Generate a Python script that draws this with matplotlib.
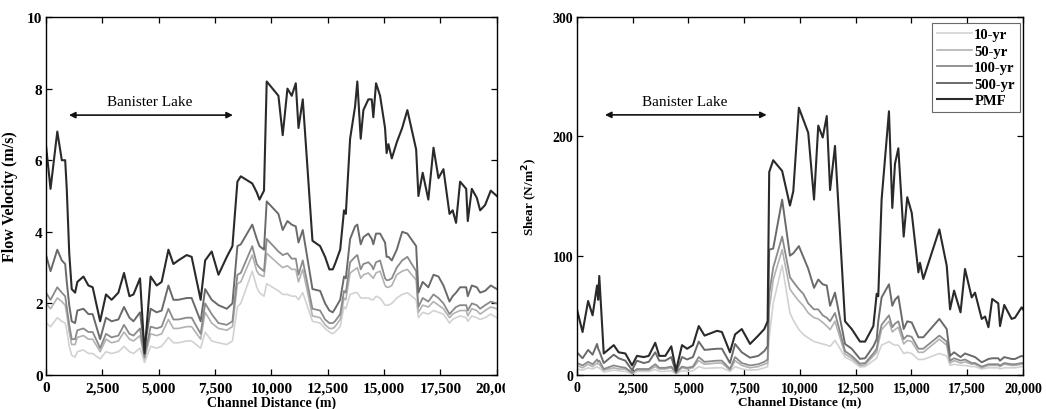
import matplotlib
matplotlib.use("Agg")
import matplotlib.pyplot as plt
from matplotlib.ticker import FuncFormatter, FixedLocator
from matplotlib.transforms import Bbox, TransformedBbox

plt.rcParams['font.family'] = ['Liberation Serif', 'DejaVu Serif']

# ---------------- data: flow velocity (m/s) ----------------
x_vel = [0, 200, 500, 700, 850, 920, 1030, 1140, 1290, 1390, 1660, 1880, 2070, 2400, 2660,
         2910, 3210, 3460, 3700, 3880, 4170, 4370, 4640, 4910, 5130, 5430, 5650, 5870, 6240,
         6460, 6860, 7060, 7350, 7650, 8020, 8270, 8490, 8640, 9150, 9350, 9470, 9670, 9790,
         10310, 10500, 10710, 10900, 11080, 11200, 11390, 11820, 12160, 12380, 12570, 12720,
         12820, 13050, 13220, 13300, 13490, 13710, 13810, 13960, 14080, 14300, 14450, 14520,
         14640, 14820, 15040, 15110, 15190, 15340, 15560, 15800, 16030, 16420, 16520, 16710,
         16960, 17190, 17410, 17630, 17900, 18040, 18190, 18370, 18640, 18710, 18890, 19110,
         19260, 19480, 19730, 20000]
vel_pmf = [6.4, 5.2, 6.8, 6.0, 6.0, 5.2, 3.4, 2.4, 2.3, 2.6, 2.75, 2.5, 2.45, 1.5, 2.25,
           2.1, 2.3, 2.85, 2.2, 2.25, 2.7, 0.6, 2.75, 2.5, 2.6, 3.5, 3.1, 3.2, 3.35,
           3.3, 2.1, 3.2, 3.45, 2.8, 3.3, 3.6, 5.4, 5.55, 5.35, 5.1, 4.9, 5.15, 8.2,
           7.8, 6.7, 8.0, 7.8, 8.15, 6.9, 7.7, 3.75, 3.6, 3.3, 2.95, 2.95,
           3.1, 3.5, 4.6, 4.5, 6.6, 7.5, 8.2, 6.6, 7.4, 7.7, 7.7, 7.2,
           8.15, 7.8, 6.9, 6.2, 6.45, 6.05, 6.5, 6.9, 7.4, 6.3, 5.0, 5.65,
           4.9, 6.35, 5.5, 5.75, 4.5, 4.6, 4.25, 5.4, 5.2, 4.3, 5.2, 4.95,
           4.6, 4.75, 5.15, 5.0]
vel_500 = [3.35, 2.9, 3.5, 3.2, 3.1, 2.6, 1.95, 1.5, 1.45, 1.8, 1.85, 1.7, 1.7, 1.0, 1.6,
           1.5, 1.55, 1.9, 1.6, 1.5, 1.75, 0.75, 1.85, 1.75, 1.8, 2.5, 2.1, 2.1, 2.15,
           2.15, 1.5, 2.4, 2.1, 1.95, 1.85, 2.0, 3.6, 3.65, 4.2, 3.8, 3.6, 3.5, 4.85,
           4.5, 4.05, 4.3, 4.2, 4.15, 3.7, 4.05, 2.4, 2.35, 2.0, 1.8, 1.75,
           1.85, 2.1, 2.75, 2.7, 3.8, 4.15, 4.2, 3.65, 3.85, 3.95, 3.8, 3.65,
           3.95, 3.95, 3.7, 3.3, 3.3, 3.2, 3.5, 4.0, 3.95, 3.6, 2.3, 2.6,
           2.45, 2.8, 2.75, 2.5, 2.05, 2.2, 2.3, 2.45, 2.45, 2.2, 2.5, 2.45,
           2.3, 2.35, 2.5, 2.4]
vel_100 = [2.3, 2.1, 2.45, 2.3, 2.2, 1.9, 1.4, 1.0, 1.0, 1.25, 1.3, 1.2, 1.2, 0.75, 1.15,
           1.05, 1.1, 1.4, 1.15, 1.1, 1.3, 0.5, 1.35, 1.3, 1.35, 1.85, 1.55, 1.55, 1.6,
           1.6, 1.15, 2.0, 1.7, 1.45, 1.4, 1.5, 2.8, 2.85, 3.6, 3.1, 3.0, 2.9, 3.8,
           3.45, 3.35, 3.4, 3.25, 3.25, 2.8, 3.2, 1.85, 1.8, 1.55, 1.45, 1.45,
           1.5, 1.7, 2.35, 2.3, 3.15, 3.3, 3.35, 2.95, 3.1, 3.15, 3.05, 2.95,
           3.15, 3.2, 2.7, 2.65, 2.65, 2.7, 3.0, 3.2, 3.3, 2.9, 1.9, 2.15,
           2.05, 2.25, 2.15, 2.0, 1.7, 1.8, 1.9, 1.95, 1.95, 1.8, 2.0, 1.95,
           1.85, 1.95, 2.05, 2.0]
vel_50 = [2.0, 1.85, 2.15, 2.05, 1.95, 1.7, 1.2, 0.85, 0.85, 1.05, 1.1, 1.0, 1.0, 0.65, 1.0,
          0.9, 0.95, 1.2, 1.0, 0.95, 1.1, 0.45, 1.15, 1.1, 1.15, 1.55, 1.3, 1.3, 1.35,
          1.35, 1.0, 1.75, 1.45, 1.3, 1.25, 1.35, 2.55, 2.6, 3.35, 2.9, 2.8, 2.75, 3.4,
          3.1, 3.0, 3.05, 2.95, 2.95, 2.6, 2.95, 1.65, 1.6, 1.4, 1.3, 1.3,
          1.35, 1.55, 2.15, 2.1, 2.85, 2.95, 3.0, 2.7, 2.8, 2.85, 2.75, 2.7,
          2.85, 2.9, 2.5, 2.45, 2.45, 2.5, 2.8, 2.9, 2.95, 2.65, 1.75, 1.95,
          1.9, 2.05, 1.95, 1.85, 1.6, 1.7, 1.75, 1.8, 1.8, 1.65, 1.85, 1.8,
          1.7, 1.8, 1.9, 1.85]
vel_10 = [1.45, 1.35, 1.6, 1.5, 1.45, 1.25, 0.8, 0.55, 0.5, 0.65, 0.7, 0.6, 0.6, 0.45, 0.65,
          0.6, 0.65, 0.8, 0.65, 0.6, 0.75, 0.35, 0.8, 0.75, 0.8, 1.05, 0.9, 0.9, 0.95,
          0.95, 0.75, 1.2, 0.95, 0.9, 0.85, 0.95, 1.9, 2.0, 2.9, 2.45, 2.3, 2.2, 2.55,
          2.35, 2.25, 2.25, 2.2, 2.2, 2.1, 2.3, 1.5, 1.45, 1.3, 1.2, 1.15,
          1.2, 1.35, 1.9, 1.85, 2.25, 2.3, 2.3, 2.15, 2.15, 2.15, 2.1, 2.1,
          2.2, 2.15, 1.95, 1.95, 1.95, 2.0, 2.15, 2.25, 2.3, 2.1, 1.6, 1.75,
          1.7, 1.8, 1.75, 1.7, 1.45, 1.55, 1.6, 1.65, 1.6, 1.5, 1.65, 1.6,
          1.55, 1.6, 1.7, 1.6]

# ---------------- data: shear (N/m^2) ----------------
x_shr = [0, 250, 500, 700, 900, 950, 1000, 1200, 1650, 1870, 2170, 2470, 2690, 2990, 3220,
         3510, 3690, 3960, 4230, 4440, 4710, 4940, 5200, 5460, 5720, 6280, 6500, 6860, 7090,
         7390, 7760, 8130, 8400, 8550, 8620, 8800, 9200, 9550, 9700, 9950, 10150, 10370, 10630,
         10820, 11020, 11200, 11350, 11570, 12020, 12320, 12690, 12920, 13290, 13440, 13510,
         13660, 13990, 14140, 14260, 14410, 14650, 14810, 15010, 15310, 15380, 15530, 16250,
         16580, 16730, 16910, 17200, 17400, 17700, 17850, 18150, 18300, 18450, 18620, 18890,
         18970, 19160, 19490, 19640, 19940, 20000]
shr_pmf = [55, 36, 62, 50, 75, 63, 83, 18, 25, 19, 18, 8, 16, 15, 16,
           27, 16, 16, 24, 3.6, 25, 22, 25, 41, 33, 37, 36, 19, 34,
           38.5, 26, 33, 38.5, 45, 170, 180, 171, 142, 154, 224, 214, 203, 147,
           209, 199, 217, 155, 192, 45, 38.5, 28, 28, 41, 68, 66,
           147, 221, 140, 177, 190, 116, 149, 136, 86, 94, 80.5, 122,
           91.6, 55, 70.7, 52.5, 88.8, 65, 69, 47, 49, 40, 63.7, 60,
           41, 58.7, 47, 48, 56.7, 55]
shr_500 = [19, 14, 21, 17, 26, 22, 20, 10, 17, 14, 12, 4, 12, 10, 11,
           19, 12, 12, 15, 2, 15, 13, 15, 28, 21, 22, 22, 10, 26,
           19, 14.5, 16, 20, 24, 105, 106, 147, 100, 102, 108, 99, 89, 73,
           80, 76, 75, 58, 69, 26, 22, 13.5, 14, 24, 30, 45,
           65, 76, 58, 63, 66, 38.5, 45, 44, 31.6, 31.6, 31.6, 47,
           38.5, 16, 19, 15, 18, 16, 15, 10.6, 12, 13.4, 14, 14,
           12, 15, 13.4, 13.4, 16, 15.5]
shr_100 = [10, 8, 11, 9, 13, 11, 12, 5, 8, 7, 6, 2, 5, 5, 5,
           9, 6, 6, 7, 2, 7, 6, 7, 15, 11, 12, 12, 5, 15,
           10, 8, 9, 11, 13, 68, 90, 116, 82, 78, 72, 68, 60, 55,
           55, 50, 48, 45, 52, 20, 16, 9.5, 10, 18, 22, 30,
           42, 50, 40, 43, 45, 30, 33, 32, 22, 22, 22, 33,
           28, 12, 14, 12, 13, 10, 10, 7, 8, 9, 9, 9,
           8, 10, 9, 9, 10, 10]
shr_50 = [8, 6, 9, 7, 10, 9, 9, 4, 6, 5, 5, 1.5, 4, 4, 4,
          7, 5, 5, 6, 1.5, 6, 5, 6, 12, 9, 10, 10, 4, 12,
          8, 6, 7, 9, 10, 55, 80, 105, 72, 68, 62, 58, 52, 48,
          47, 44, 41, 38, 45, 17.6, 14, 8, 8.5, 16, 19, 26,
          38, 45, 36, 38, 40, 26, 29, 28, 19, 19, 19, 30,
          25, 10, 12, 10, 11, 9, 9, 6, 7, 8, 8, 8,
          7, 9, 8, 8, 9, 9]
shr_10 = [5, 4, 6, 5, 7, 6, 6, 2.5, 4, 3.5, 3, 1, 3, 3, 3,
          4.5, 3, 3, 3.5, 1, 3.5, 3, 3.5, 7, 5.5, 6, 6, 3, 7,
          5, 4, 4.5, 6, 7, 32, 60, 92, 52, 46, 38, 34, 31, 28,
          27, 26, 25, 24, 29, 15, 12, 6.7, 7, 12, 14, 18,
          25, 28, 26, 25, 25, 18, 19, 18, 13, 13, 13, 18,
          16, 8, 9, 8, 8, 7, 7, 5, 5.5, 6, 6, 6,
          5, 6, 6, 6, 7, 7]

labels = ['10-yr', '50-yr', '100-yr', '500-yr', 'PMF']
colors = ['#d2d2d2', '#b2b2b2', '#8a8a8a', '#6a6a6a', '#2a2a2a']
widths = [1.2, 1.2, 1.3, 1.4, 1.5]

x_ticks = [0, 2500, 5000, 7500, 10000, 12500, 15000, 17500, 20000]
vel_ticks = [0, 2, 4, 6, 8, 10]
shr_ticks = [0, 100, 200, 300]

fig = plt.figure(figsize=(10.46, 4.10), dpi=100)
ax1 = fig.add_axes([0.044, 0.083, 0.431, 0.873])
ax2 = fig.add_axes([0.5516, 0.083, 0.4264, 0.873])

comma = FuncFormatter(lambda v, p: f"{int(v):,}")

def style(ax, yticks, ylim, tsize, xlsize):
    ax.set_xlim(0, 20000)
    ax.set_ylim(*ylim)
    ax.xaxis.set_major_locator(FixedLocator(x_ticks))
    ax.yaxis.set_major_locator(FixedLocator(yticks))
    ax.xaxis.set_major_formatter(comma)
    ax.tick_params(direction='in', top=True, right=True, length=4, width=0.9,
                   labelsize=tsize)
    ax.tick_params(axis='x', pad=4.5)
    ax.tick_params(axis='y', pad=2.5)
    for lab in ax.get_xticklabels() + ax.get_yticklabels():
        lab.set_fontweight('bold')
    for s in ax.spines.values():
        s.set_linewidth(1.0)
    ax.set_xlabel('Channel Distance (m)', fontweight='bold', fontsize=xlsize)
    ax.xaxis.set_label_coords(0.5, -0.058)

vel_series = [vel_10, vel_50, vel_100, vel_500, vel_pmf]
shr_series = [shr_10, shr_50, shr_100, shr_500, shr_pmf]
for ys, lab, c, w in zip(vel_series, labels, colors, widths):
    ax1.plot(x_vel, ys, color=c, lw=w, label=lab)
for ys, lab, c, w in zip(shr_series, labels, colors, widths):
    ax2.plot(x_shr, ys, color=c, lw=w, label=lab)

style(ax1, vel_ticks, (0, 10), 11, 10)
style(ax2, shr_ticks, (0, 300), 10, 9.5)
ax1.set_ylabel('Flow Velocity (m/s)', fontweight='bold', fontsize=11.5)
ax1.yaxis.set_label_coords(-0.062, 0.5)
ax2.set_ylabel('Shear (N/m$^\\mathbf{2}$)', fontweight='bold', fontsize=9.5)
ax2.yaxis.set_label_coords(-0.083, 0.5)

# Banister Lake annotations
ax1.text(4610, 7.63, 'Banister Lake', ha='center', va='center', fontsize=11)
ax1.annotate('', xy=(1020, 7.26), xytext=(8290, 7.26),
             arrowprops=dict(arrowstyle='<|-|>', color='#111111', lw=1.2,
                             mutation_scale=9, shrinkA=0, shrinkB=0))
ax2.text(4840, 228.8, 'Banister Lake', ha='center', va='center', fontsize=11)
ax2.annotate('', xy=(1256, 218), xytext=(8505, 218),
             arrowprops=dict(arrowstyle='<|-|>', color='#111111', lw=1.2,
                             mutation_scale=9, shrinkA=0, shrinkB=0))

leg = ax2.legend(loc='upper right', handlelength=2.4, handletextpad=0.15,
                 borderpad=0.35, labelspacing=0.22, fancybox=False,
                 borderaxespad=0, frameon=True,
                 prop=dict(weight='bold', size=10.5),
                 bbox_to_anchor=(0.993, 0.983))
leg.get_frame().set_edgecolor('#444444')
leg.get_frame().set_linewidth(0.8)

# clip the last tick label on the left panel as in the reference
fig.canvas.draw()
clip = TransformedBbox(Bbox([[0, 0], [505 / 1046, 1]]), fig.transFigure)
lbl = ax1.get_xticklabels()[-1]
lbl.set_clip_box(clip)
lbl.set_clip_on(True)

fig.savefig('out.png', dpi=100)
